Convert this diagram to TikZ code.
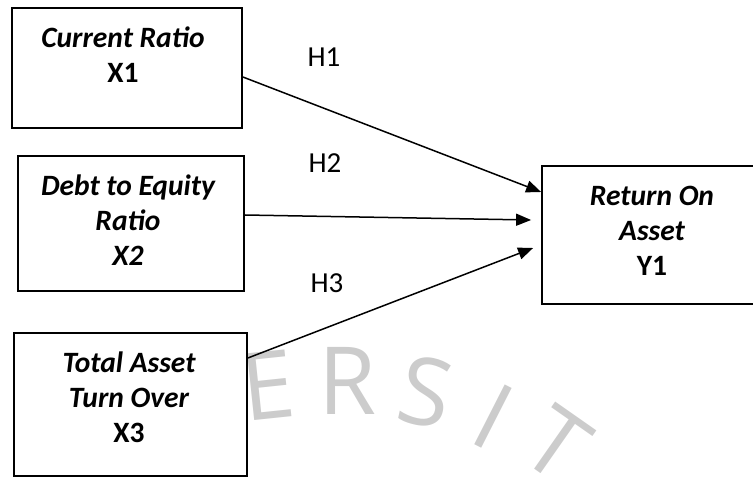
\documentclass[tikz,border=0pt]{standalone}
\usepackage{fontspec}
\setmainfont{Carlito}
\newfontfamily\wmfont{Open Sans}
\usetikzlibrary{arrows.meta,positioning}

\begin{document}
\begin{tikzpicture}[x=1pt, y=-1pt, >={Triangle[length=15pt,width=12pt]},
  box/.style={draw, line width=1.8pt, inner sep=0pt},
  txt/.style={align=center, font=\fontsize{29.5}{35}\selectfont\bfseries, inner sep=0pt},
  hyp/.style={font=\fontsize{29}{35}\selectfont, inner sep=0pt},
  wm/.style={text=black!20, font=\wmfont\fontsize{94}{94}\selectfont, inner sep=0pt},
  link/.style={->, line width=1.5pt}]
  \clip (0,0) rectangle (753,478);
  % watermark
  \node[wm, rotate=6] (wmE) at (268,385) {E};
  \node[wm, rotate=0] (wmR) at (348,381) {R};
  \node[wm, rotate=-12] (wmS) at (426,392) {S};
  \node[wm, rotate=-27] (wmI) at (493,417) {I};
  \node[wm, rotate=-35] (wmT) at (557,444) {T};
  % boxes
  \node[box, minimum width=230pt, minimum height=120pt] (cr) at (127,68) {};
  \node[box, minimum width=226pt, minimum height=135pt] (der) at (131,223.5) {};
  \node[box, minimum width=233pt, minimum height=143pt] (tato) at (130.5,404.5) {};
  \node[box, minimum width=214pt, minimum height=138pt] (roa) at (649,235) {};
  \node[txt] (crtext) at (123,55) {\itshape Current Ratio\\X1};
  \node[txt] (dertext) at (128,220) {\itshape Debt to Equity\\\itshape Ratio\\\itshape X2};
  \node[txt] (tatotext) at (129,397.5) {\itshape Total Asset\\\itshape Turn Over\\X3};
  \node[txt] (roatext) at (652,230.5) {\itshape Return On\\\itshape Asset\\Y1};
  % hypotheses
  \node[hyp] (h1) at (324,57) {H1};
  \node[hyp] (h2) at (325,163.5) {H2};
  \node[hyp] (h3) at (327,283) {H3};
  \draw[link] ([yshift=-9pt]cr.east) -- ([yshift=43pt]roa.west);
  \draw[link] ([yshift=8.5pt]der.east) -- ([xshift=-10pt,yshift=15pt]roa.west);
  \draw[link] ([yshift=46.5pt]tato.east) -- ([xshift=-8pt,yshift=-13pt]roa.west);
\end{tikzpicture}
\end{document}
